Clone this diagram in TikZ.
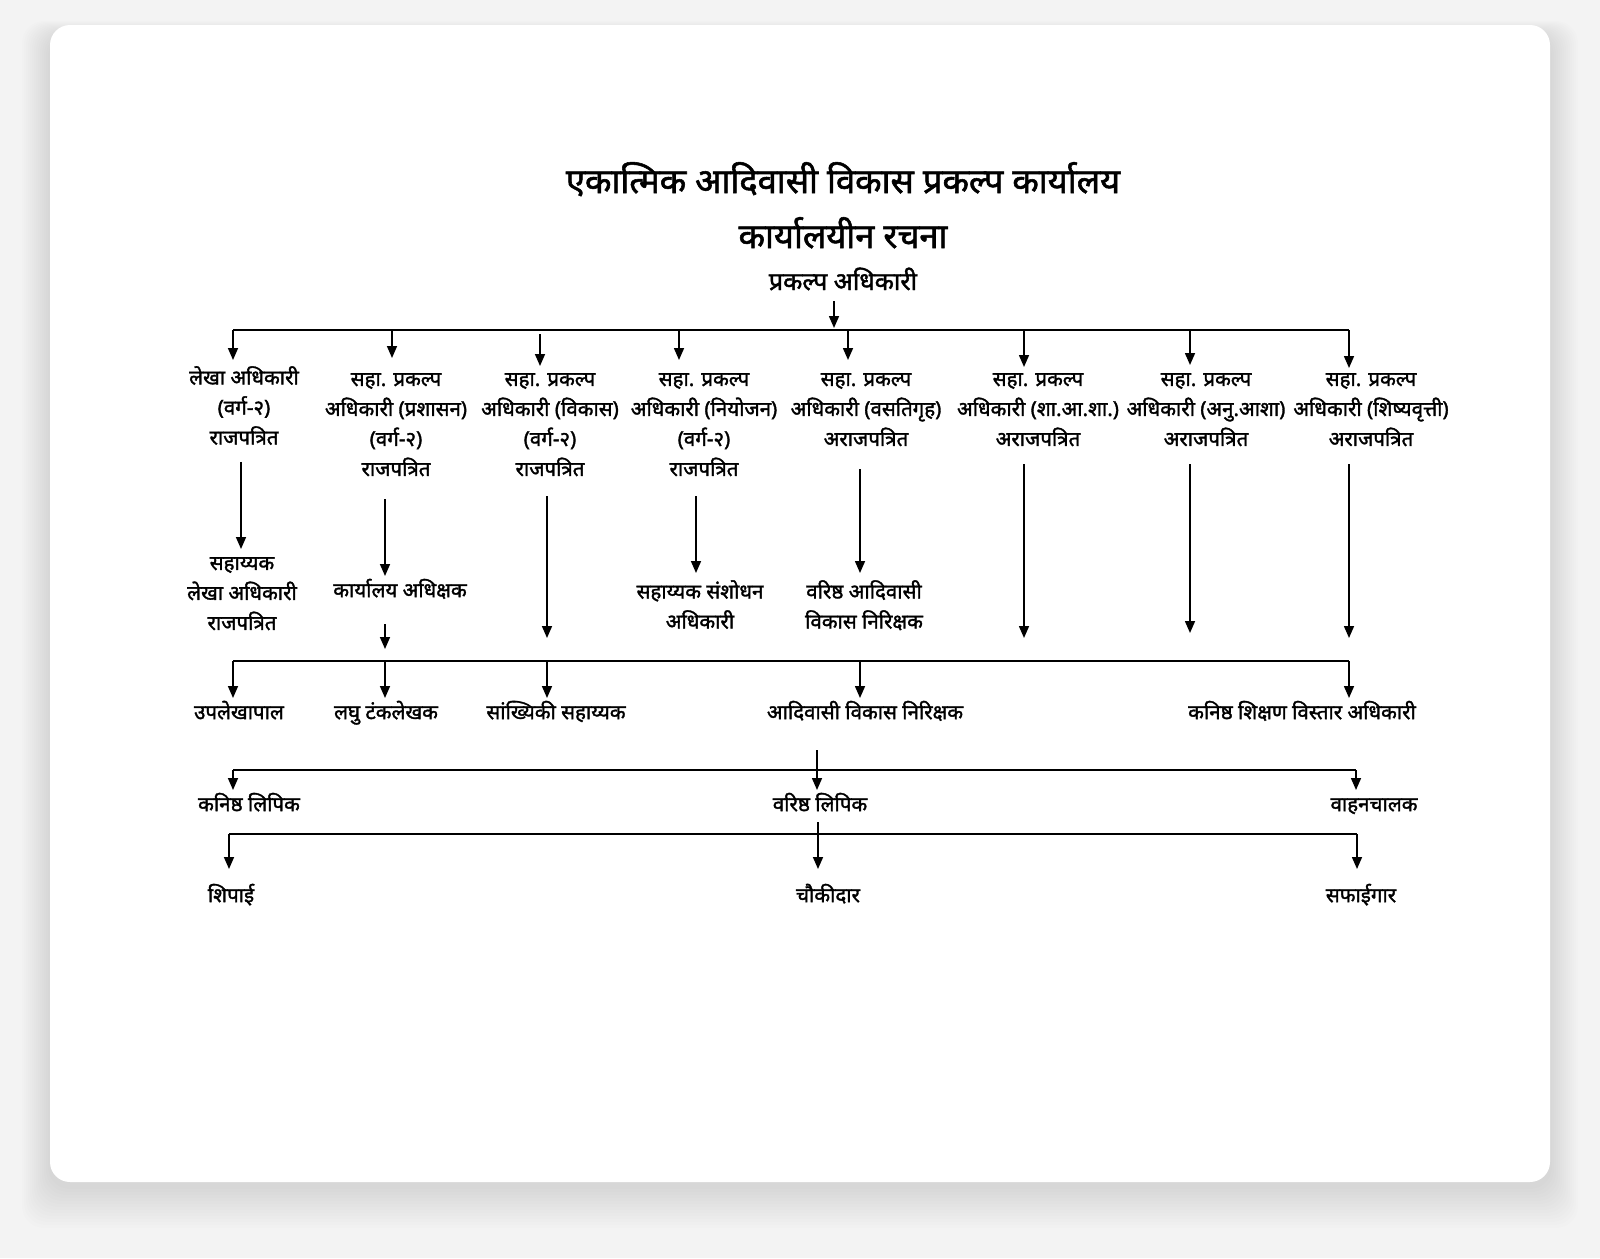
\documentclass[tikz,border=0pt]{standalone}
\usepackage{fontspec}
\newfontfamily\deva[Script=Devanagari,FakeBold=1.6]{Noto Sans}
\usetikzlibrary{arrows.meta,positioning}
\definecolor{pagebg}{HTML}{F3F3F3}
\tikzset{
  orgtext/.style={font=\deva\fontsize{20.5}{30}\selectfont, align=center, inner sep=0pt, anchor=north,
    execute at begin node=\strut, execute at end node=\strut},
  titletext/.style={font=\deva\fontsize{34.5}{40}\selectfont, inner sep=0pt, anchor=base},
  headtext/.style={font=\deva\fontsize{25}{30}\selectfont, inner sep=0pt, anchor=base},
  bus/.style={line width=1.6pt},
  down/.style={-{Triangle[length=12pt,width=10pt]}, line width=1.6pt},
}

\begin{document}
\begin{tikzpicture}[x=1pt,y=-1pt]
\useasboundingbox (0,0) rectangle (1600,1258);
% card with soft shadow
\fill[pagebg] (0,0) rectangle (1600,1258);
\foreach \s in {1,...,14}
  \fill[black,opacity=0.008,rounded corners=22pt] (50-2*\s,35-\s) rectangle (1550+2*\s,1186+3*\s);
\fill[white,rounded corners=20pt] (50,25) rectangle (1550,1182);
%
\node (title) [titletext] at (843,193) {एकात्मिक आदिवासी विकास प्रकल्प कार्यालय};
\node (sub) [titletext] at (843,248) {कार्यालयीन रचना};
\node (po) [headtext] at (843,290) {प्रकल्प अधिकारी};
%
% first level
\node (n1) [orgtext] at (244,366) {लेखा अधिकारी\\(वर्ग-२)\\राजपत्रित};
\node (n2) [orgtext] at (396,373) {सहा. प्रकल्प\\अधिकारी (प्रशासन)\\(वर्ग-२)\\राजपत्रित};
\node (n3) [orgtext] at (550,373) {सहा. प्रकल्प\\अधिकारी (विकास)\\(वर्ग-२)\\राजपत्रित};
\node (n4) [orgtext] at (704,373) {सहा. प्रकल्प\\अधिकारी (नियोजन)\\(वर्ग-२)\\राजपत्रित};
\node (n5) [orgtext] at (866,373) {सहा. प्रकल्प\\अधिकारी (वसतिगृह)\\अराजपत्रित};
\node (n6) [orgtext] at (1038,373) {सहा. प्रकल्प\\अधिकारी (शा.आ.शा.)\\अराजपत्रित};
\node (n7) [orgtext] at (1206,373) {सहा. प्रकल्प\\अधिकारी (अनु.आशा)\\अराजपत्रित};
\node (n8) [orgtext] at (1371,373) {सहा. प्रकल्प\\अधिकारी (शिष्यवृत्ती)\\अराजपत्रित};
%
\coordinate (top) at (834,328);
\coordinate (b1w) at (233,330);
\coordinate (b1e) at (1349,330);
\coordinate (c2) at (392,330);
\coordinate (c3) at (540,334);
\coordinate (c4) at (679,330);
\coordinate (c5) at (848,330);
\coordinate (c6) at (1024,330);
\coordinate (c7) at (1190,330);
\path[down] ([xshift=-9pt]po.base) ++(0,11) edge (top);
\draw[bus] (b1w) -- (b1e);
\path[down,shorten >=6pt] (b1w) edge (b1w |- n1.north);
\path[down,shorten >=15pt] (c2) edge (c2 |- n2.north);
\path[down,shorten >=7pt] (c3) edge (c3 |- n3.north);
\path[down,shorten >=13pt] (c4) edge (c4 |- n4.north);
\path[down,shorten >=13pt] (c5) edge (c5 |- n5.north);
\path[down,shorten >=6pt] (c6) edge (c6 |- n6.north);
\path[down,shorten >=8pt] (c7) edge (c7 |- n7.north);
\path[down,shorten >=5pt] (b1e) edge (b1e |- n8.north);
%
% second level
\node (m1) [orgtext] at (242,557) {सहाय्यक\\लेखा अधिकारी\\राजपत्रित};
\node (m2) [orgtext] at (400,576) {कार्यालय अधिक्षक};
\node (m4) [orgtext] at (700,580) {सहाय्यक संशोधन\\अधिकारी};
\node (m5) [orgtext] at (864,580) {वरिष्ठ आदिवासी\\विकास निरिक्षक};
%
\coordinate (k1) at (241,0);
\coordinate (k2) at (385,0);
\coordinate (k4) at (696,0);
\coordinate (k5) at (860,0);
\coordinate (e2) at (385,649);
\coordinate (e3) at (547,638);
\coordinate (e6) at (1024,638);
\coordinate (e7) at (1190,633);
\coordinate (e8) at (1349,638);
\path[down,shorten <=8pt,shorten >=8pt] (n1.south -| k1) edge (k1 |- m1.north);
\path[down,shorten <=14pt] (n2.south -| k2) edge (k2 |- m2.north);
\path[down,shorten <=11pt] (n3.south -| e3) edge (e3);
\path[down,shorten <=11pt,shorten >=7pt] (n4.south -| k4) edge (k4 |- m4.north);
\path[down,shorten <=14pt,shorten >=7pt] (n5.south -| k5) edge (k5 |- m5.north);
\path[down,shorten <=9pt] (n6.south -| e6) edge (e6);
\path[down,shorten <=9pt] (n7.south -| e7) edge (e7);
\path[down,shorten <=9pt] (n8.south -| e8) edge (e8);
\path[down,shorten <=18pt] (m2.south -| e2) edge (e2);
%
% third level
\node (p1) [orgtext] at (239,698) {उपलेखापाल};
\node (p2) [orgtext] at (386,698) {लघु टंकलेखक};
\node (p3) [orgtext] at (556,698) {सांख्यिकी सहाय्यक};
\node (p4) [orgtext] at (865,698) {आदिवासी विकास निरिक्षक};
\node (p5) [orgtext] at (1302,698) {कनिष्ठ शिक्षण विस्तार अधिकारी};
%
\coordinate (b2w) at (233,661);
\coordinate (b2e) at (1349,661);
\coordinate (g2) at (385,661);
\coordinate (g3) at (547,661);
\coordinate (g4) at (860,661);
\draw[bus] (b2w) -- (b2e);
\path[down] (b2w) edge (b2w |- p1.north);
\path[down] (g2) edge (g2 |- p2.north);
\path[down] (g3) edge (g3 |- p3.north);
\path[down] (g4) edge (g4 |- p4.north);
\path[down] (b2e) edge (b2e |- p5.north);
%
% fourth level
\node (q1) [orgtext] at (249,790) {कनिष्ठ लिपिक};
\node (q2) [orgtext] at (820,790) {वरिष्ठ लिपिक};
\node (q3) [orgtext] at (1374,790) {वाहनचालक};
%
\coordinate (b3top) at (817,750);
\coordinate (b3w) at (233,770);
\coordinate (b3e) at (1356,770);
\draw[bus] (b3w) -- (b3e);
\path[down] (b3top) edge (b3top |- q2.north);
\path[down] (b3w) edge (b3w |- q1.north);
\path[down] (b3e) edge (b3e |- q3.north);
%
% fifth level
\node (r1) [orgtext] at (231,881) {शिपाई};
\node (r2) [orgtext] at (828,881) {चौकीदार};
\node (r3) [orgtext] at (1361,881) {सफाईगार};
%
\coordinate (b4w) at (229,834);
\coordinate (b4e) at (1357,834);
\coordinate (b4m) at (818,834);
\draw[bus] (b4w) -- (b4e);
\path[down,shorten <=2pt,shorten >=12pt] (q2.south -| b4m) edge (b4m |- r2.north);
\path[down,shorten >=12pt] (b4w) edge (b4w |- r1.north);
\path[down,shorten >=12pt] (b4e) edge (b4e |- r3.north);
\end{tikzpicture}
\end{document}
